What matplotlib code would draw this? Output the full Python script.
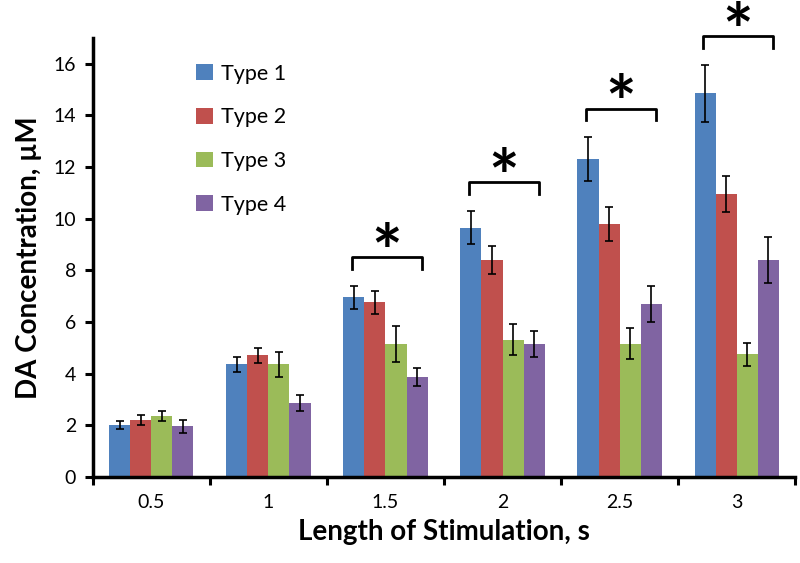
import numpy as np
import matplotlib
matplotlib.use('Agg')
import matplotlib.pyplot as plt

plt.rcParams['font.family'] = ['Lato', 'DejaVu Sans']

# data
stim = ['0.5', '1', '1.5', '2', '2.5', '3']
types = ['Type 1', 'Type 2', 'Type 3', 'Type 4']
type1 = [2.0, 4.35, 6.95, 9.65, 12.3, 14.85]
type2 = [2.2, 4.7, 6.75, 8.4, 9.8, 10.95]
type3 = [2.35, 4.35, 5.15, 5.3, 5.15, 4.75]
type4 = [1.95, 2.85, 3.85, 5.15, 6.7, 8.4]
err1 = [0.15, 0.3, 0.45, 0.65, 0.85, 1.1]
err2 = [0.2, 0.3, 0.45, 0.55, 0.65, 0.7]
err3 = [0.2, 0.5, 0.7, 0.6, 0.6, 0.45]
err4 = [0.25, 0.3, 0.35, 0.5, 0.7, 0.9]
signif = [2, 3, 4, 5]  # groups marked with *

colors = ['#4F81BD', '#C0504D', '#9BBB59', '#8064A2']

fig = plt.figure(figsize=(8, 5.63), dpi=100)
ax = fig.add_axes([0.116, 0.153, 0.878, 0.78])

x = np.arange(len(stim))
w = 0.18
vals = [type1, type2, type3, type4]
errs = [err1, err2, err3, err4]
for i in range(4):
    ax.bar(x + (i - 1.5) * w, vals[i], w, color=colors[i], label=types[i],
           yerr=errs[i], error_kw=dict(ecolor='black', elinewidth=1.2, capsize=3, capthick=1.2))

# significance brackets
for g in signif:
    top = max(v[g] + e[g] for v, e in zip(vals, errs)) + 1.1
    x0 = x[g] - 1.5 * w - 0.02
    x1 = x[g] + 1.5 * w + 0.04
    ax.plot([x0, x0, x1, x1], [top - 0.45, top, top, top - 0.45], color='black', lw=2,
            clip_on=False, solid_joinstyle='round')
    ax.text((x0 + x1) / 2, top - 0.8, '*', ha='center', va='baseline', fontsize=52,
            fontweight='bold', clip_on=False)

ax.set_xlim(-0.5, len(stim) - 0.5)
ax.set_ylim(0, 17)
ax.set_yticks(range(0, 17, 2))
ax.set_xticks(x)
ax.set_xticklabels(stim)
ax.set_xticks(np.arange(-0.5, len(stim)), minor=True)
ax.tick_params(axis='x', which='major', length=0, labelsize=14, pad=12)
ax.tick_params(axis='x', which='minor', length=6, width=2.2, direction='out')
ax.tick_params(axis='y', length=6, width=2.2, direction='out', labelsize=14, pad=6)

for s in ['top', 'right']:
    ax.spines[s].set_visible(False)
for s in ['left', 'bottom']:
    ax.spines[s].set_linewidth(2.5)

ax.set_xlabel('Length of Stimulation, s', fontsize=20, fontweight='bold', labelpad=6)
ax.set_ylabel('DA Concentration, µM', fontsize=20, fontweight='bold', labelpad=8)

ax.legend(loc='upper left', bbox_to_anchor=(0.12, 0.985), frameon=False, fontsize=15.5,
          handlelength=0.75, handleheight=0.75, handletextpad=0.4, labelspacing=1.1)

fig.savefig('out.png', dpi=100)
